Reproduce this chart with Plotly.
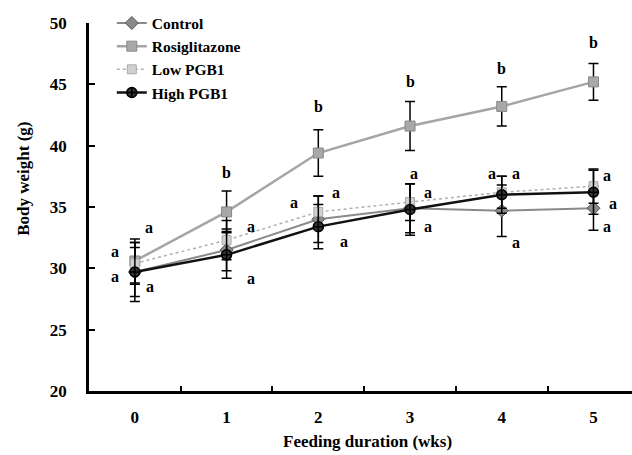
import plotly.graph_objects as go

weeks = [0, 1, 2, 3, 4, 5]
week_labels = ["0", "1", "2", "3", "4", "5"]

control = [29.7, 31.5, 34.0, 34.9, 34.7, 34.9]
control_err = [2.0, 1.7, 1.9, 2.0, 2.1, 1.8]
rosi = [30.6, 34.6, 39.4, 41.6, 43.2, 45.2]
rosi_err = [1.8, 1.7, 1.9, 2.0, 1.6, 1.5]
low = [30.4, 32.3, 34.6, 35.4, 36.2, 36.7]
low_err = [1.7, 1.6, 1.3, 1.5, 1.3, 1.4]
high = [29.7, 31.1, 33.4, 34.8, 36.0, 36.2]
high_err = [2.4, 1.9, 1.8, 2.1, 1.5, 1.8]

# significance letters: (week, y, letter)
sig_labels = [
    (0, 33.3, "a"), (0, 31.4, "a"), (0, 29.3, "a"), (0, 28.5, "a"),
    (1, 37.8, "b"), (1, 33.4, "a"), (1, 29.2, "a"),
    (2, 43.2, "b"), (2, 36.2, "a"), (2, 35.4, "a"), (2, 32.2, "a"),
    (3, 45.2, "b"), (3, 37.7, "a"), (3, 36.2, "a"), (3, 33.4, "a"),
    (4, 46.3, "b"), (4, 37.7, "a"), (4, 37.7, "a"), (4, 32.1, "a"),
    (5, 48.4, "b"), (5, 37.6, "a"), (5, 35.3, "a"), (5, 33.4, "a"),
]
# horizontal pixel shifts for each letter (left / right / centered of the point)
sig_shift = [14, -20, -20, 15,
             0, 24, 24,
             0, 18, -24, 26,
             0, 4, 18, 18,
             0, -10, 14, 14,
             0, 14, 20, 14]

FONT = "Liberation Serif"
ebar = lambda e: dict(type="data", array=e, visible=True, color="black", thickness=1.5, width=5)

fig = go.Figure()
fig.add_trace(go.Scatter(x=weeks, y=control, name="Control", mode="lines+markers",
                         line=dict(color="#8a8a8a", width=2),
                         marker=dict(symbol="diamond", size=10, color="#8a8a8a", line=dict(color="#555", width=1)),
                         error_y=ebar(control_err)))
fig.add_trace(go.Scatter(x=weeks, y=rosi, name="Rosiglitazone", mode="lines+markers",
                         line=dict(color="#a5a5a5", width=2.5),
                         marker=dict(symbol="square", size=10, color="#a8a8a8", line=dict(color="#888", width=1)),
                         error_y=ebar(rosi_err)))
fig.add_trace(go.Scatter(x=weeks, y=low, name="Low PGB1", mode="lines+markers",
                         line=dict(color="#b0b0b0", width=1.5, dash="dot"),
                         marker=dict(symbol="square", size=9, color="#d0d0d0", line=dict(color="#aaa", width=1)),
                         error_y=ebar(low_err)))
fig.add_trace(go.Scatter(x=weeks, y=high, name="High PGB1", mode="lines+markers",
                         line=dict(color="#111", width=2.5),
                         marker=dict(symbol="circle-cross", size=10, color="#333", line=dict(color="#000", width=1.5)),
                         error_y=ebar(high_err)))

annotations = []
for (wk, yv, txt), sh in zip(sig_labels, sig_shift):
    annotations.append(dict(x=wk, y=yv, text="<b>" + txt + "</b>", showarrow=False, xshift=sh,
                            font=dict(family=FONT, size=16, color="#000000")))
annotations.append(dict(xref="paper", yref="paper", x=0.512, y=-0.136, text="<b>Feeding duration (wks)</b>",
                        showarrow=False, xanchor="center", yanchor="middle",
                        font=dict(family=FONT, size=17, color="#000000")))
annotations.append(dict(xref="paper", yref="paper", x=-0.122, y=0.576, text="<b>Body weight (g)</b>",
                        showarrow=False, xanchor="center", yanchor="middle", textangle=-90,
                        font=dict(family=FONT, size=17, color="#000000")))

fig.update_layout(
    width=632, height=455,
    margin=dict(l=89, r=0, t=23, b=64),
    paper_bgcolor="white", plot_bgcolor="white",
    font=dict(family=FONT, color="black"),
    showlegend=True,
    legend=dict(x=0.042, y=1.045, xanchor="left", yanchor="top", bgcolor="rgba(0,0,0,0)",
                font=dict(family=FONT, size=15.5, color="black", weight="bold"),
                tracegroupgap=0, itemwidth=30),
    annotations=annotations,
    xaxis=dict(range=[-0.5, 5.42], tickvals=weeks, ticktext=week_labels, ticks="", automargin=False,
               showline=True, linecolor="black", linewidth=3, showgrid=False, zeroline=False,
               minor=dict(tickvals=[0.5, 1.5, 2.5, 3.5, 4.5], ticks="inside", ticklen=5, tickwidth=2, tickcolor="black", showgrid=False),
               tickfont=dict(family=FONT, size=17, weight="bold", color="black"), ticklabelstandoff=9),
    yaxis=dict(range=[20, 50], tickvals=[20, 25, 30, 35, 40, 45, 50], ticks="inside", ticklen=6, tickwidth=2,
               tickcolor="black", automargin=False,
               showline=True, linecolor="black", linewidth=2.5, showgrid=False, zeroline=False,
               tickfont=dict(family=FONT, size=17, weight="bold", color="black"), ticklabelstandoff=16),
)

fig.write_html("out.html", config={"displayModeBar": False},
               post_script="document.body.style.margin='0';document.body.style.overflow='hidden';")
